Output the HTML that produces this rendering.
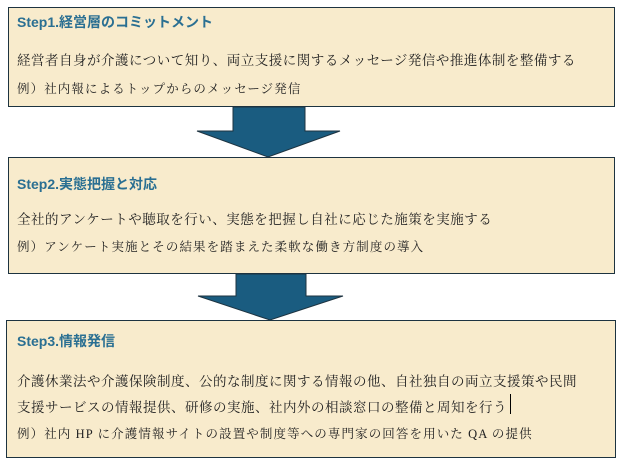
<!DOCTYPE html>
<html><head><meta charset="utf-8"><style>
body{margin:0;width:622px;height:462px;background:#fff;position:relative;overflow:hidden;font-family:"Liberation Serif","Noto Serif CJK SC",serif;}
.box{position:absolute;background:#f8ebcc;border:1.5px solid #1d3340;box-sizing:border-box;}
.t{position:absolute;font-family:"Liberation Sans","Noto Sans CJK JP",sans-serif;font-weight:bold;color:#2a6f92;font-size:14px;white-space:nowrap;}
.l{position:absolute;font-size:13.5px;color:#222;white-space:nowrap;letter-spacing:0.5px;}
.s{font-size:12.5px;letter-spacing:1.1px;}
</style></head><body>
<div class="box" style="left:8px;top:7px;width:607px;height:100px"></div>
<div class="box" style="left:8px;top:157px;width:607px;height:117px"></div>
<div class="box" style="left:6px;top:320px;width:610px;height:138px"></div>
<svg style="position:absolute;left:0;top:0" width="622" height="462">
<polygon points="233,107 305,107 305,131 340,131 268,157 197,131 233,131" fill="#1a5c80" stroke="#1d3340" stroke-width="1"/>
<polygon points="236,274 306,274 306,296 343,296 270,320 198,296 236,296" fill="#1a5c80" stroke="#1d3340" stroke-width="1"/>
</svg>
<div class="t" style="left:17px;top:12px">Step1.経営層のコミットメント</div>
<div class="l" style="left:17px;top:49px">経営者自身が介護について知り、両立支援に関するメッセージ発信や推進体制を整備する</div>
<div class="l s" style="left:17px;top:79px">例）社内報によるトップからのメッセージ発信</div>
<div class="t" style="left:17px;top:174px">Step2.実態把握と対応</div>
<div class="l" style="left:17px;top:208px">全社的アンケートや聴取を行い、実態を把握し自社に応じた施策を実施する</div>
<div class="l s" style="left:17px;top:237px">例）アンケート実施とその結果を踏まえた柔軟な働き方制度の導入</div>
<div class="t" style="left:17px;top:331px">Step3.情報発信</div>
<div class="l" style="left:17px;top:370px">介護休業法や介護保険制度、公的な制度に関する情報の他、自社独自の両立支援策や民間</div>
<div class="l" style="left:17px;top:396px">支援サービスの情報提供、研修の実施、社内外の相談窓口の整備と周知を行う</div>
<div style="position:absolute;left:510px;top:394px;width:1px;height:20px;background:#000"></div>
<div class="l s" style="left:17px;top:424px">例）社内 HP に介護情報サイトの設置や制度等への専門家の回答を用いた QA の提供</div>
</body></html>
